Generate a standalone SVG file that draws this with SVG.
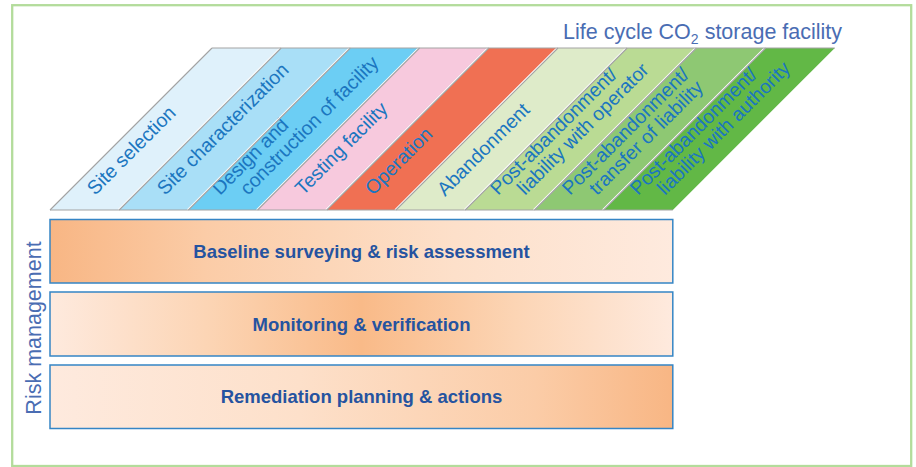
<svg xmlns="http://www.w3.org/2000/svg" width="916" height="467" viewBox="0 0 916 467">
  <style>
    .frame { fill: #ffffff; stroke: #b3dc9b; stroke-width: 2.3; }
    .phase-edge { fill: none; stroke: #a3a3a3; stroke-width: 1.1; }
    .phase-gap { fill: none; stroke: #ffffff; stroke-width: 1.6; }
    .phase-label { font-family: "Liberation Sans", Arial, sans-serif; font-size: 19.5px; fill: #1b76c0; }
    .title { font-family: "Liberation Sans", Arial, sans-serif; font-size: 21.5px; fill: #4a6db3; }
    .bar { stroke: #3585c5; stroke-width: 1.5; }
    .bar-label { font-family: "Liberation Sans", Arial, sans-serif; font-size: 18.5px; font-weight: bold; fill: #2553a0; text-anchor: middle; }
  </style>
  <defs>
    <linearGradient id="gradLeft" x1="0" y1="0" x2="1" y2="0">
      <stop offset="0" stop-color="#f8b684"/>
      <stop offset="0.25" stop-color="#fbcca7"/>
      <stop offset="0.65" stop-color="#fde0ca"/>
      <stop offset="1" stop-color="#feeade"/>
    </linearGradient>
    <linearGradient id="gradMid" x1="0" y1="0" x2="1" y2="0">
      <stop offset="0" stop-color="#feeade"/>
      <stop offset="0.25" stop-color="#fcd5b5"/>
      <stop offset="0.5" stop-color="#f9ba88"/>
      <stop offset="0.75" stop-color="#fcd5b5"/>
      <stop offset="1" stop-color="#feeade"/>
    </linearGradient>
    <linearGradient id="gradRight" x1="0" y1="0" x2="1" y2="0">
      <stop offset="0" stop-color="#feeade"/>
      <stop offset="0.4" stop-color="#fde0ca"/>
      <stop offset="0.78" stop-color="#fbcca7"/>
      <stop offset="1" stop-color="#f8b684"/>
    </linearGradient>
  </defs>

  <!-- outer frame -->
  <rect class="frame" x="12.2" y="5.2" width="899" height="460.8"/>

  <!-- title -->
  <text class="title" x="563" y="38.5">Life cycle CO<tspan font-size="14" dy="5">2</tspan><tspan dy="-5"> storage facility</tspan></text>

  <!-- life-cycle phases: 45-degree slanted bands, bottom y=210, top y=48 -->
  <g id="phase-site-selection">
    <polygon points="50,210 212,48 281.2,48 119.2,210" fill="#dff1fb"/>
    <text class="phase-label" transform="translate(95,196) rotate(-45)">Site selection</text>
  </g>
  <g id="phase-site-characterization">
    <polygon points="119.2,210 281.2,48 350.4,48 188.4,210" fill="#a9dff7"/>
    <text class="phase-label" transform="translate(165,196) rotate(-45)">Site characterization</text>
  </g>
  <g id="phase-design-construction">
    <polygon points="188.4,210 350.4,48 419.6,48 257.6,210" fill="#6ccef4"/>
    <text class="phase-label" transform="translate(220,196) rotate(-45)">Design and</text>
    <text class="phase-label" transform="translate(248,196) rotate(-45)">construction of facility</text>
  </g>
  <g id="phase-testing">
    <polygon points="257.6,210 419.6,48 488.8,48 326.8,210" fill="#f7c9dd"/>
    <text class="phase-label" transform="translate(303,196) rotate(-45)">Testing facility</text>
  </g>
  <g id="phase-operation">
    <polygon points="326.8,210 488.8,48 558,48 396,210" fill="#f07053"/>
    <text class="phase-label" transform="translate(373,196) rotate(-45)">Operation</text>
  </g>
  <g id="phase-abandonment">
    <polygon points="396,210 558,48 627.2,48 465.2,210" fill="#deebc9"/>
    <text class="phase-label" transform="translate(445,197) rotate(-45)">Abandonment</text>
  </g>
  <g id="phase-post-operator">
    <polygon points="465.2,210 627.2,48 696.4,48 534.4,210" fill="#badb94"/>
    <text class="phase-label" transform="translate(498,196) rotate(-45)">Post-abandonment/</text>
    <text class="phase-label" transform="translate(525,196) rotate(-45)">liability with operator</text>
  </g>
  <g id="phase-post-transfer">
    <polygon points="534.4,210 696.4,48 765.6,48 603.6,210" fill="#8ec873"/>
    <text class="phase-label" transform="translate(570,196) rotate(-45)">Post-abandonment/</text>
    <text class="phase-label" transform="translate(597,196) rotate(-45)">transfer of liability</text>
  </g>
  <g id="phase-post-authority">
    <polygon points="603.6,210 765.6,48 834.8,48 672.8,210" fill="#62b846"/>
    <text class="phase-label" transform="translate(638,196) rotate(-45)">Post-abandonment/</text>
    <text class="phase-label" transform="translate(665,196) rotate(-45)">liability with authority</text>
  </g>

  <!-- band separators: white gap plus grey rule on each band's left edge -->
  <g id="phase-edges">
    <path class="phase-gap" d="M118.2,210 L280.2,48 M187.4,210 L349.4,48 M256.6,210 L418.6,48 M325.8,210 L487.8,48 M395,210 L557,48 M464.2,210 L626.2,48 M533.4,210 L695.4,48 M602.6,210 L764.6,48"/>
    <path class="phase-edge" d="M50,210 L212,48 M119.2,210 L281.2,48 M188.4,210 L350.4,48 M257.6,210 L419.6,48 M326.8,210 L488.8,48 M396,210 L558,48 M465.2,210 L627.2,48 M534.4,210 L696.4,48 M603.6,210 L765.6,48"/>
    <path class="phase-edge" d="M50,210 H672.8 M212,48 H834.8"/>
  </g>

  <!-- risk management -->
  <text class="title" font-size="22" text-anchor="middle" transform="translate(41,328) rotate(-90)">Risk management</text>

  <g id="bar-baseline">
    <rect class="bar" x="50" y="219.5" width="622.8" height="63.5" fill="url(#gradLeft)"/>
    <text class="bar-label" x="361.5" y="257.5">Baseline surveying &amp; risk assessment</text>
  </g>
  <g id="bar-monitoring">
    <rect class="bar" x="50" y="292" width="622.8" height="64" fill="url(#gradMid)"/>
    <text class="bar-label" x="361.5" y="330.5">Monitoring &amp; verification</text>
  </g>
  <g id="bar-remediation">
    <rect class="bar" x="50" y="365" width="622.8" height="63.5" fill="url(#gradRight)"/>
    <text class="bar-label" x="361.5" y="403">Remediation planning &amp; actions</text>
  </g>
</svg>
